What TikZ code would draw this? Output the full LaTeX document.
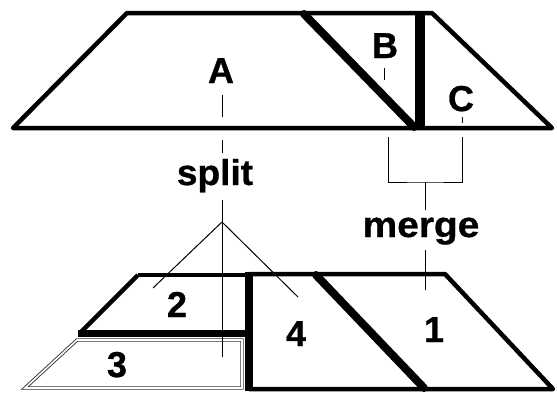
\documentclass[tikz,border=0pt]{standalone}
\usepackage{fontspec}
\setmainfont{Liberation Sans}[BoldFeatures={FakeBold=0.8}]
\begin{document}
\begin{tikzpicture}[x=1pt,y=-1pt,
  outline/.style={draw=black,line width=4.5pt,line join=round},
  heavy/.style={draw=black,line width=8pt,line cap=round},
  heavier/.style={draw=black,line width=10pt},
  thinline/.style={draw=black,line width=1pt},
  dbl/.style={draw=black!80,line width=0.9pt,double=white,double distance=1.6pt},
  lab/.style={font=\fontsize{36}{40}\selectfont\bfseries,anchor=base,inner sep=0pt}]
\useasboundingbox (0,0) rectangle (557,392);
% top shape
\draw[outline] (127,13) -- (432,13) -- (552,128) -- (13,128) -- cycle;
\draw[heavy] (304,14) -- (414,127);
\draw[heavier] (420,11) -- (420,130);
% bottom shapes
\draw[dbl] (77,340) -- (242,340) -- (242,388) -- (25,388) -- cycle;
\draw[outline] (138,275) -- (249,275);
\draw[outline] (138,275) -- (80,333);
\draw[draw=black,line width=7pt] (78,333) -- (249,333);
\draw[outline] (249,274) -- (445,274) -- (553,389) -- (249,389);
\draw[draw=black,line width=8pt] (249,272) -- (249,391);
\draw[heavy] (316,275) -- (424,388);
% labels
\node[lab] (A) at (221,83) {A};
\node[lab] (B) at (385,58) {B};
\node[lab] (C) at (461,111) {C};
\node[lab,xscale=1.03] (split) at (215,185) {split};
\node[lab,xscale=1.08] (merge) at (421,237) {merge};
\node[lab] (n1) at (434,342) {1};
\node[lab] (n2) at (177,317) {2};
\node[lab] (n3) at (117,377) {3};
\node[lab] (n4) at (296,346) {4};
% connectors
\coordinate (a1) at (222,95); \coordinate (a2) at (222,117);
\coordinate (a3) at (222,140); \coordinate (a4) at (222,153);
\coordinate (s1) at (222,200); \coordinate (s2) at (222,357);
\coordinate (fork) at (222,222);
\coordinate (f2) at (153,288); \coordinate (f4) at (298,297);
\draw[thinline] (a1) -- (a2);
\draw[thinline] (a3) -- (a4);
\draw[thinline] (s1) -- (s2);
\draw[thinline] (fork) -- (f2);
\draw[thinline] (fork) -- (f4);
\coordinate (b1) at (384,68); \coordinate (b2) at (384,80);
\coordinate (c1) at (462,117); \coordinate (c2) at (462,123);
\draw[thinline] (b1) -- (b2);
\draw[thinline] (c1) -- (c2);
\coordinate (k1) at (388,137); \coordinate (k2) at (462,137);
\coordinate (km) at (425,182); \coordinate (m0) at (425,210);
\coordinate (m1) at (425,250); \coordinate (m2) at (425,290);
\draw[thinline] (k1) |- (km) -| (k2);
\draw[thinline] (km) -- (m0);
\draw[thinline] (m1) -- (m2);
\end{tikzpicture}
\end{document}
